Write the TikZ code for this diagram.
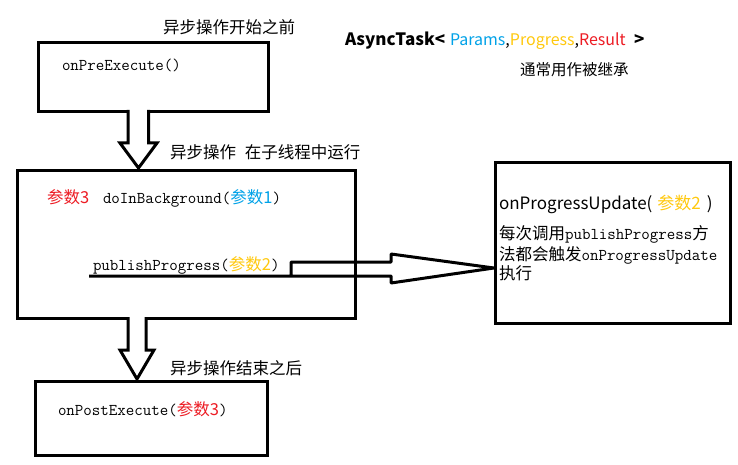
\documentclass[tikz,border=0pt]{standalone}
\usepackage{fontspec}
\newfontfamily\cjk{Noto Sans CJK SC}
\definecolor{pred}{RGB}{237,28,36}
\definecolor{pblue}{RGB}{0,162,232}
\definecolor{pyellow}{RGB}{255,201,14}
\newcommand\cn[2]{{\cjk\color{#1}#2}}
\tikzset{
  box/.style={draw, line width=3pt, inner sep=0pt, anchor=north west},
  txt/.style={anchor=base west, inner sep=0pt, outer sep=0pt},
  zh/.style={txt, font=\cjk\fontsize{16.5}{20}\selectfont},
  code/.style={txt, font=\ttfamily\fontsize{16.5}{20}\selectfont},
  sans/.style={txt, font=\cjk\fontsize{17}{20}\selectfont},
  blk/.style={draw, line width=3pt, line join=miter, fill=white}
}
\begin{document}
\begin{tikzpicture}[x=1pt,y=-1pt]
\useasboundingbox (0,0) rectangle (738,465);
\fill[white] (0,0) rectangle (738,465);

% boxes
\node (pre)  [box, minimum width=230pt, minimum height=69pt]  at (37,41)  {};
\node (bg)   [box, minimum width=338pt, minimum height=148pt] at (16,169) {};
\node (upd)  [box, minimum width=235pt, minimum height=161pt] at (494,161) {};
\node (post) [box, minimum width=232pt, minimum height=74pt]  at (34,380) {};

% labels
\node (l1) [zh] at (163,34)  {异步操作开始之前};
\node (l2) [zh] at (170,159) {异步操作\hspace{9pt}在子线程中运行};
\node (l3) [zh] at (170,374) {异步操作结束之后};

\node (at) [sans] at (345,46) {\bfseries AsyncTask<};
\node (ap) [sans, font=\cjk\fontsize{16}{20}\selectfont] at (450,46) {\color{pblue}Params\color{black},\color{pyellow}Progress\color{black},\color{pred}Result};
\node (ag) [sans] at (634,46) {\bfseries >};
\node (inh) [sans, font=\cjk\fontsize{15.5}{20}\selectfont] at (520,76) {通常用作被继承};

% texts in boxes
\node (tpre) [code] at (62,71) {onPreExecute()};
\node (r3)   [code] at (47,203) {\cn{pred}{参数3}};
\node (tdo)  [code] at (103,203) {doInBackground(\cn{pblue}{参数1})};
\node (tpub) [code] at (93,270) {publishProgress(\cn{pyellow}{参数2})};
\node (tpost)[code] at (58,415) {onPostExecute(\cn{pred}{参数3})};

\node (tupd) [sans] at (499,209) {onProgressUpdate(\hspace{5pt}\color{pyellow}参数2\color{black}\hspace{6pt})};
\node (d1) [code] at (499,239) {\cn{black}{每次调用}publishProgress\cn{black}{方}};
\node (d2) [code] at (499,260) {\cn{black}{法都会触发}onProgressUpdate};
\node (d3) [code] at (499,279) {\cn{black}{执行}};

% block arrows
\coordinate (ul) at (89,276);
\coordinate (tip) at (494,268);
\draw[blk] (128,110) -- (128,143) -- (120,143) -- (138.5,168) -- (157,143) -- (148.5,143) -- (148.5,110);
\draw[blk] (128,317) -- (128,350) -- (120,350) -- (137,379) -- (154,350) -- (146,350) -- (146,317);
\draw[line width=3pt, line join=bevel] (291,276) -- (291,262) -- (391,262) -- (391,254) -- (tip) -- (391,283) -- (391,276) -- (ul);
\end{tikzpicture}
\end{document}
